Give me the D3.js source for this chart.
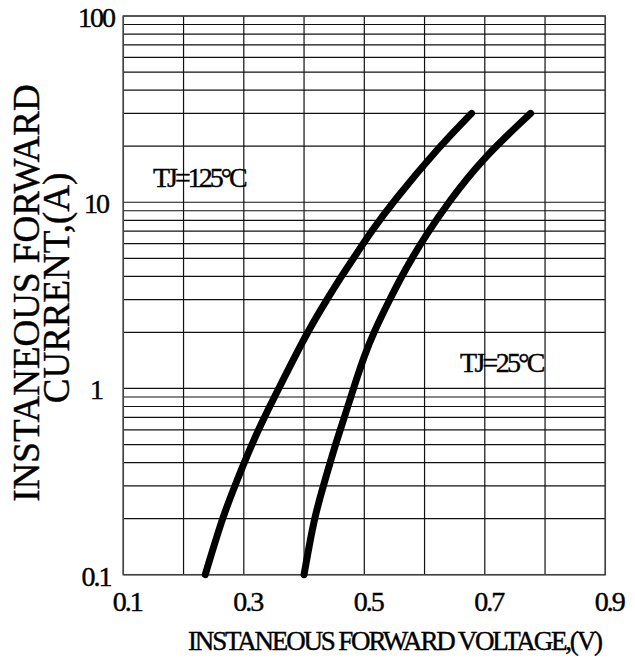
<!DOCTYPE html>
<html>
<head>
<meta charset="utf-8">
<script src="https://cdn.jsdelivr.net/npm/d3@7"></script>
<style>
  html, body { margin: 0; padding: 0; background: #fff; }
  svg { display: block; }
  text { font-family: "Liberation Serif", "Times New Roman", serif; fill: #000; stroke: #000; stroke-width: 0.4px; }
</style>
</head>
<body>
<svg id="chart" width="635" height="672"></svg>
<script>
// ---- data ----
const xTicks = [0.1, 0.3, 0.5, 0.7, 0.9];
const xTickLabels = ["0.1", "0.3", "0.5", "0.7", "0.9"];
const xGrid = [0.1, 0.2, 0.3, 0.4, 0.5, 0.6, 0.7, 0.8, 0.9];
const yTicks = [0.1, 1, 10, 100];
const yTickLabels = ["0.1", "1", "10", "100"];
const current125 = [0.1, 0.2, 0.3, 0.5, 0.7, 1, 2, 3, 4, 5, 7, 10, 20, 30];
const voltage125 = [0.236, 0.264, 0.285, 0.313, 0.334, 0.358, 0.405, 0.438, 0.462, 0.482, 0.512, 0.547, 0.625, 0.678];
const current25 = [0.1, 0.2, 0.3, 0.5, 0.7, 1, 1.5, 2, 3, 4, 5, 6.7, 10, 17, 30];
const voltage25 = [0.400, 0.4165, 0.432, 0.452, 0.467, 0.482, 0.500, 0.5155, 0.542, 0.562, 0.579, 0.603, 0.6395, 0.695, 0.776];
const seriesLabels = ["TJ=125°C", "TJ=25°C"];
const xTitle = "INSTANEOUS FORWARD VOLTAGE,(V)";
const yTitle = ["INSTANEOUS FORWARD", "CURRENT,(A)"];

// ---- layout ----
const svg = d3.select("#chart");
const pLeft = 123.3, pRight = 605.3, pTop = 16, pBottom = 574.7;
const x = d3.scaleLinear().domain([0.1, 0.9]).range([pLeft, pRight]);
const y = d3.scaleLog().domain([0.1, 100]).range([pBottom, pTop]);

// grid: horizontal log lines
const yGrid = [];
[0.1, 1, 10].forEach(d => { for (let k = 1; k <= 9; k++) yGrid.push(d * k); });
yGrid.push(100);

const g = svg.append("g");
g.selectAll("line.h").data(yGrid).join("line")
  .attr("class", "h")
  .attr("x1", pLeft).attr("x2", pRight)
  .attr("y1", d => y(d)).attr("y2", d => y(d))
  .attr("stroke", "#111").attr("stroke-width", 1.2);

g.selectAll("line.v").data(xGrid).join("line")
  .attr("class", "v")
  .attr("x1", d => x(d)).attr("x2", d => x(d))
  .attr("y1", pTop).attr("y2", pBottom)
  .attr("stroke", "#111").attr("stroke-width", 1.2);

g.append("rect")
  .attr("x", pLeft).attr("y", pTop)
  .attr("width", pRight - pLeft).attr("height", pBottom - pTop)
  .attr("fill", "none").attr("stroke", "#444").attr("stroke-width", 1.5);

// curves
const line = d3.line()
  .x(d => x(d[0])).y(d => y(d[1]))
  .curve(d3.curveBasis);

const s125 = voltage125.map((v, i) => [v, current125[i]]);
const s25 = voltage25.map((v, i) => [v, current25[i]]);
[s125, s25].forEach(s => {
  g.append("path").datum(s)
    .attr("d", line)
    .attr("fill", "none")
    .attr("stroke", "#000")
    .attr("stroke-width", 7)
    .attr("stroke-linecap", "round")
    .attr("stroke-linejoin", "round");
});

// tick labels
svg.selectAll("text.xt").data(xTicks).join("text")
  .attr("class", "xt")
  .attr("x", d => x(d) + 4)
  .attr("y", 611)
  .attr("text-anchor", "middle")
  .attr("font-size", 28)
  .attr("letter-spacing", "-2px")
  .text((d, i) => xTickLabels[i]);

svg.selectAll("text.yt").data(yTicks).join("text")
  .attr("class", "yt")
  .attr("x", 96)
  .attr("y", d => y(d) + 11)
  .attr("text-anchor", "middle")
  .attr("font-size", 28)
  .attr("letter-spacing", "-2px")
  .text((d, i) => yTickLabels[i]);

// series labels
svg.append("text")
  .attr("x", 153).attr("y", 187)
  .attr("font-size", 28)
  .attr("letter-spacing", "-3px")
  .text(seriesLabels[0]);
svg.append("text")
  .attr("x", 460).attr("y", 372)
  .attr("font-size", 28)
  .attr("letter-spacing", "-2.7px")
  .text(seriesLabels[1]);

// axis titles
svg.append("text")
  .attr("x", 188).attr("y", 650)
  .attr("font-size", 27)
  .attr("textLength", 415).attr("lengthAdjust", "spacing")
  .text(xTitle);

svg.append("text")
  .attr("transform", "translate(39,293) rotate(-90)")
  .attr("text-anchor", "middle")
  .attr("font-size", 37)
  .text(yTitle[0]);
svg.append("text")
  .attr("transform", "translate(69,288) rotate(-90)")
  .attr("text-anchor", "middle")
  .attr("font-size", 37)
  .text(yTitle[1]);
</script>
</body>
</html>
